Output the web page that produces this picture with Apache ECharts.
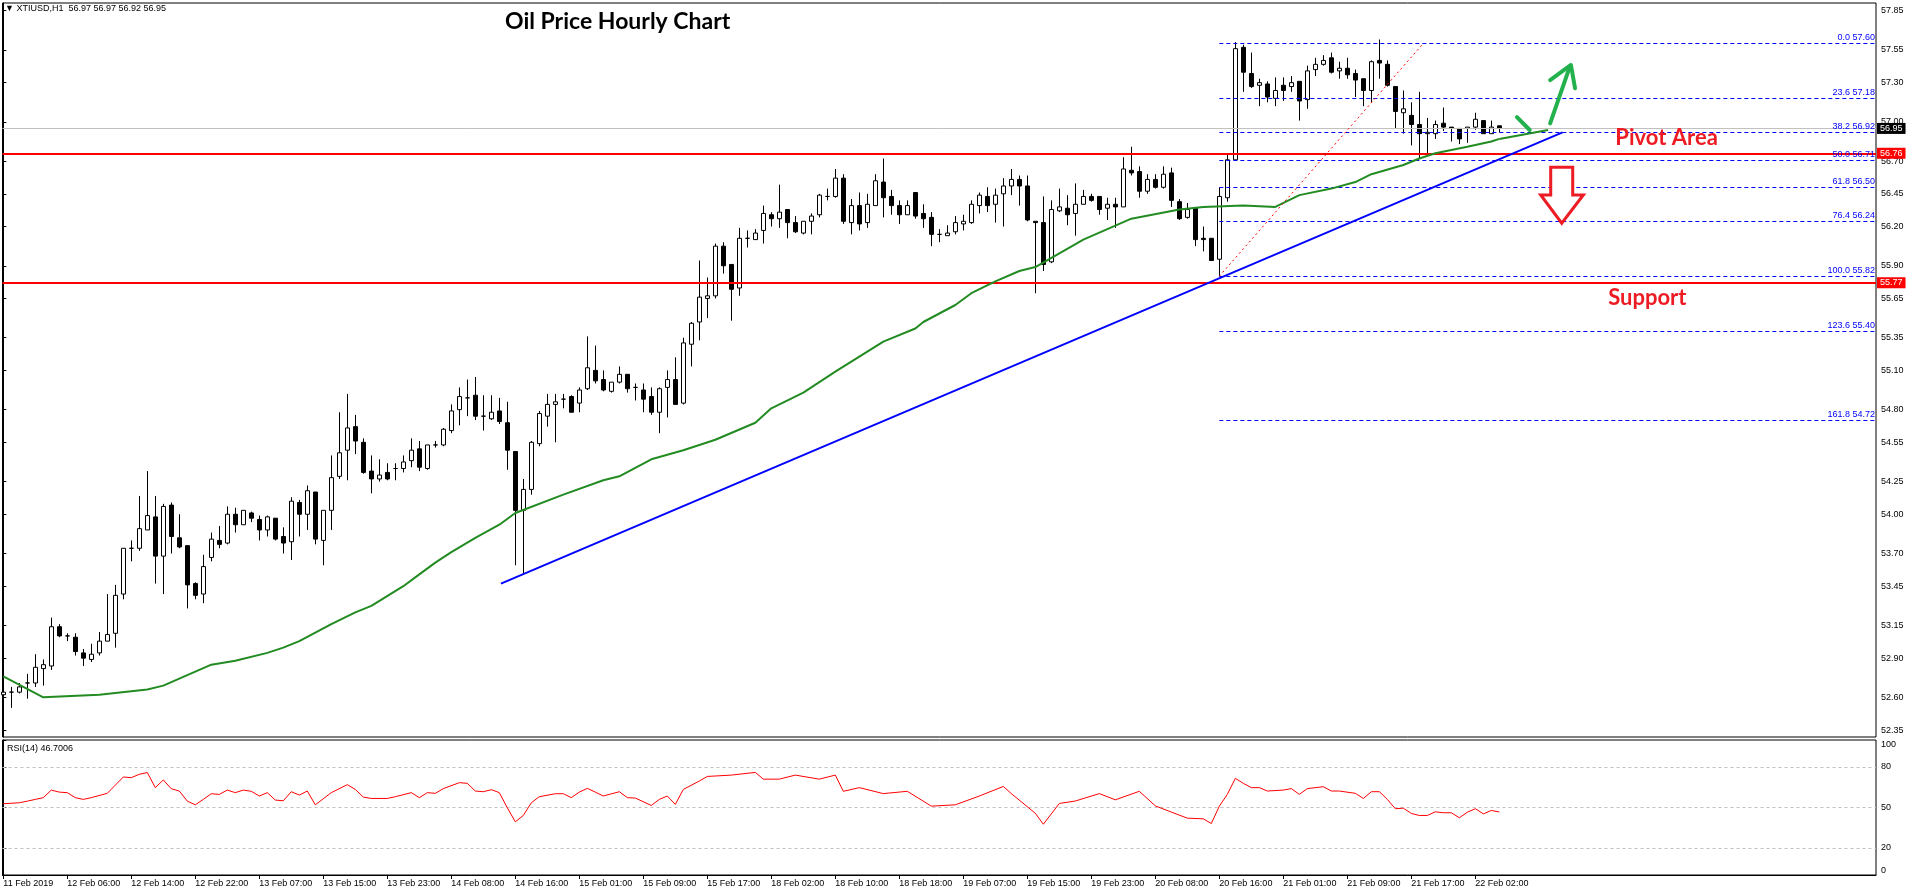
<!DOCTYPE html>
<html><head><meta charset="utf-8">
<script src="https://cdn.jsdelivr.net/npm/echarts@6/dist/echarts.min.js"></script>
<style>html,body{margin:0;padding:0;background:#fff;}#c{width:1916px;height:896px;}</style>
</head><body><div id="c"></div>
<script>
// ---- DATA ----
// hourly candles: [open, close, low, high]
const candles = [
[52.62,52.64,52.61,52.90],[52.64,52.64,52.52,52.68],[52.64,52.68,52.63,52.71],[52.71,52.71,52.59,52.78],
[52.71,52.83,52.68,52.93],[52.82,52.85,52.69,52.89],[52.84,53.14,52.81,53.21],[53.14,53.07,53.06,53.16],
[53.07,53.07,53.03,53.09],[53.06,52.95,52.92,53.09],[52.94,52.90,52.84,52.97],[52.89,52.93,52.87,53.01],
[52.94,53.03,52.92,53.10],[53.03,53.08,53.03,53.39],[53.09,53.38,52.98,53.46],[53.39,53.74,53.35,53.74],
[53.74,53.74,53.64,53.80],[53.74,53.89,53.72,54.14],[53.88,53.99,53.88,54.33],[53.98,53.68,53.47,54.14],
[53.68,54.06,53.39,54.08],[54.07,53.83,53.70,54.09],[53.82,53.75,53.74,54.00],[53.76,53.46,53.28,53.76],
[53.47,53.38,53.35,53.48],[53.39,53.60,53.32,53.69],[53.67,53.81,53.64,53.86],[53.80,53.77,53.74,53.91],
[53.78,54.00,53.77,54.06],[54.00,53.92,53.86,54.05],[53.92,54.03,53.92,54.03],[54.01,53.97,53.94,54.02],
[53.96,53.88,53.80,53.99],[53.88,53.98,53.83,53.99],[53.97,53.81,53.80,53.97],[53.83,53.78,53.70,53.90],
[53.79,54.10,53.65,54.13],[54.09,54.00,53.83,54.11],[54.00,54.18,53.88,54.22],[54.17,53.81,53.77,54.17],
[53.80,54.03,53.61,54.03],[54.03,54.28,53.88,54.45],[54.29,54.47,54.27,54.78],[54.49,54.66,54.26,54.92],
[54.67,54.56,54.46,54.76],[54.55,54.32,54.31,54.58],[54.33,54.27,54.16,54.45],[54.27,54.30,54.25,54.42],
[54.32,54.27,54.26,54.39],[54.35,54.35,54.26,54.39],[54.35,54.40,54.32,54.45],[54.41,54.49,54.36,54.58],
[54.50,54.36,54.33,54.56],[54.35,54.53,54.34,54.53],[54.53,54.53,54.51,54.56],[54.53,54.65,54.52,54.66],
[54.64,54.79,54.62,54.84],[54.80,54.90,54.68,54.97],[54.89,54.89,54.75,55.03],[54.91,54.75,54.72,55.05],
[54.75,54.75,54.64,54.91],[54.73,54.78,54.72,54.91],[54.79,54.71,54.69,54.89],[54.70,54.49,54.34,54.86],
[54.48,54.03,53.61,54.48],[54.03,54.19,53.54,54.27],[54.19,54.55,54.15,54.56],[54.54,54.77,54.52,54.79],
[54.75,54.84,54.67,54.92],[54.84,54.86,54.55,54.92],[54.88,54.88,54.81,54.92],[54.90,54.78,54.78,54.91],
[54.85,54.95,54.78,54.97],[54.96,55.12,54.95,55.36],[55.10,55.02,55.00,55.29],[55.03,54.95,54.94,55.10],
[54.94,55.01,54.93,55.01],[55.01,55.07,55.00,55.13],[55.07,54.96,54.93,55.07],[54.97,54.97,54.87,55.00],
[54.95,54.88,54.78,55.00],[54.90,54.78,54.76,54.97],[54.78,54.96,54.62,54.97],[54.97,55.03,54.74,55.10],
[55.03,54.84,54.84,55.20],[54.85,55.31,54.84,55.35],[55.30,55.46,55.13,55.47],[55.47,55.66,55.33,55.94],
[55.65,55.67,55.50,55.81],[55.67,56.05,55.65,56.07],[56.05,55.90,55.84,56.08],[55.91,55.72,55.48,55.91],
[55.73,56.11,55.67,56.19],[56.11,56.11,56.04,56.17],[56.10,56.15,56.10,56.18],[56.17,56.30,56.07,56.36],
[56.29,56.26,56.20,56.31],[56.26,56.31,56.19,56.52],[56.33,56.23,56.11,56.33],[56.23,56.16,56.15,56.28],
[56.15,56.24,56.14,56.24],[56.24,56.28,56.14,56.30],[56.29,56.44,56.27,56.45],[56.43,56.43,56.40,56.49],
[56.43,56.57,56.42,56.64],[56.57,56.24,56.22,56.60],[56.23,56.36,56.14,56.41],[56.36,56.22,56.17,56.46],
[56.23,56.37,56.19,56.45],[56.36,56.55,56.36,56.60],[56.54,56.42,56.27,56.72],[56.43,56.36,56.29,56.48],
[56.36,56.29,56.22,56.40],[56.29,56.36,56.29,56.40],[56.46,56.28,56.26,56.46],[56.30,56.26,56.19,56.37],
[56.27,56.14,56.05,56.31],[56.14,56.14,56.08,56.18],[56.13,56.15,56.13,56.21],[56.16,56.23,56.14,56.28],
[56.22,56.24,56.17,56.29],[56.23,56.37,56.22,56.40],[56.36,56.44,56.30,56.46],[56.43,56.36,56.31,56.50],
[56.37,56.44,56.23,56.49],[56.45,56.51,56.20,56.57],[56.51,56.56,56.44,56.64],[56.56,56.51,56.36,56.59],
[56.51,56.25,56.24,56.59],[56.24,56.23,55.69,56.24],[56.23,55.91,55.86,56.43],[55.93,56.33,55.92,56.40],
[56.32,56.35,56.31,56.49],[56.34,56.29,56.21,56.44],[56.30,56.37,56.13,56.53],[56.37,56.43,56.37,56.48],
[56.43,56.40,56.39,56.45],[56.43,56.33,56.29,56.43],[56.34,56.37,56.25,56.42],[56.37,56.35,56.19,56.42],
[56.35,56.64,56.35,56.73],[56.63,56.61,56.59,56.81],[56.62,56.47,56.42,56.66],[56.47,56.56,56.45,56.60],
[56.56,56.50,56.49,56.60],[56.50,56.60,56.49,56.66],[56.61,56.40,56.35,56.65],[56.39,56.26,56.25,56.41],
[56.27,56.33,56.26,56.38],[56.34,56.10,56.05,56.34],[56.11,56.10,56.01,56.20],[56.11,55.94,55.94,56.11],
[55.95,56.43,55.82,56.50],[56.42,56.71,56.39,56.76],[56.71,57.56,56.71,57.61],[57.57,57.38,57.23,57.59],
[57.37,57.27,57.26,57.53],[57.28,57.30,57.12,57.33],[57.29,57.19,57.15,57.31],[57.18,57.24,57.12,57.34],
[57.28,57.24,57.16,57.34],[57.27,57.30,57.23,57.35],[57.31,57.16,57.01,57.31],[57.17,57.39,57.10,57.43],
[57.40,57.44,57.35,57.49],[57.44,57.47,57.43,57.51],[57.49,57.38,57.37,57.53],[57.39,57.41,57.33,57.46],
[57.41,57.36,57.33,57.49],[57.37,57.32,57.19,57.40],[57.33,57.24,57.12,57.33],[57.24,57.46,57.15,57.47],
[57.47,57.45,57.33,57.63],[57.44,57.28,57.27,57.47],[57.27,57.08,56.95,57.27],[57.07,57.10,56.91,57.24],
[57.05,56.98,56.82,57.15],[56.98,56.91,56.72,57.23],[56.91,56.92,56.75,57.03],[56.91,56.98,56.87,57.01],
[56.99,56.96,56.93,57.11],[56.96,56.95,56.85,56.96],[56.95,56.87,56.83,56.95],[56.95,56.96,56.84,56.96],
[56.96,57.02,56.94,57.07],[57.01,56.91,56.91,57.01],[56.91,56.96,56.91,57.01],[56.97,56.95,56.92,56.97]
];
// moving average read at bar index: [bar, value]
const maPoints = [
[0,52.76],[5,52.60],[12,52.62],[18,52.66],[20,52.69],[26,52.85],[29,52.88],[33,52.94],[35,52.98],[37,53.03],
[41,53.16],[44,53.25],[46,53.30],[50,53.45],[52,53.54],[54,53.63],[56,53.71],[59,53.82],[62,53.92],[64,54.01],
[70,54.15],[75,54.26],[77,54.29],[81,54.42],[85,54.49],[89,54.57],[94,54.70],[96,54.81],[100,54.93],[104,55.09],
[110,55.32],[114,55.42],[115,55.47],[119,55.60],[121,55.69],[124,55.78],[127,55.86],[129,55.89],[135,56.10],
[141,56.26],[147,56.33],[150,56.35],[155,56.36],[159,56.35],[162,56.44],[166,56.49],[169,56.54],[171,56.60],
[175,56.67],[177,56.72],[179,56.76],[183,56.81],[186,56.85],[187,56.87]
];
// RSI(14) read at bar index: [bar, value]
const rsiPoints = [
[0,52.8],[2,53.5],[3,54.7],[4,56],[5,57.3],[6,62.9],[7,61.4],[8,61],[9,57.3],[10,56],[11,57.3],[13,60.5],
[15,72.6],[16,72.1],[17,74.6],[18,75.9],[19,64.7],[20,70.4],[21,63.9],[22,62.2],[23,54.7],[24,52],[25,56],
[26,60.2],[27,59.7],[28,62.9],[29,61],[30,62.9],[31,62],[32,58.5],[33,61],[34,55.5],[35,55],[36,61.7],
[37,59.2],[38,62.2],[39,52],[40,56.5],[41,61],[43,66.9],[44,63.4],[45,57.7],[46,56.7],[48,56.7],[49,58],
[51,61],[52,57.3],[53,61],[54,60.5],[55,64],[57,68.4],[58,67.9],[59,62.2],[60,61.7],[61,63.2],[62,61],
[63,49.8],[64,39.4],[65,44.1],[66,53.5],[67,58],[69,60.2],[70,60.2],[71,57.3],[72,61.4],[73,64.2],[74,61.4],
[75,58.5],[77,61.7],[78,57.3],[79,57],[81,51.5],[82,56],[83,58.5],[84,52.3],[85,63.4],[87,69.6],
[88,73],[91,74],[94,76],[95,71],[97,71],[99,74],[102,71],[104,74],[105,62],[107,64.7],[110,60.3],[113,62],
[116,51],[119,52],[122,58.5],[125,65.6],[126,60.3],[129,45.7],[130,37.6],[132,53],[134,54.8],[137,60.3],
[139,55.7],[142,62],[144,51.2],[146,46.6],[148,42.1],[150,41.6],[151,38.1],[152,51],[153,59.7],[154,71.6],
[155,67.9],[156,64.7],[157,64.7],[158,62.2],[160,62.9],[161,64],[162,59.7],[163,64],[165,65.4],[166,62.2],
[167,62.2],[169,60.5],[170,56.7],[171,61.7],[172,61.7],[173,56],[174,49.1],[175,49.5],[176,45.6],[177,44.1],
[178,44.1],[179,46.8],[180,46.1],[181,46.1],[182,42.4],[183,46.5],[184,49.1],[185,45.3],[186,47.8],[187,46.7]
];
const tickIdx = [0,8,16,24,32,40,48,56,64,72,80,88,96,104,112,120,128,136,144,152,160,168,176,184];
const tickLabels = ['11 Feb 2019','12 Feb 06:00','12 Feb 14:00','12 Feb 22:00','13 Feb 07:00','13 Feb 15:00',
 '13 Feb 23:00','14 Feb 08:00','14 Feb 16:00','15 Feb 01:00','15 Feb 09:00','15 Feb 17:00','18 Feb 02:00',
 '18 Feb 10:00','18 Feb 18:00','19 Feb 07:00','19 Feb 15:00','19 Feb 23:00','20 Feb 08:00','20 Feb 16:00',
 '21 Feb 01:00','21 Feb 09:00','21 Feb 17:00','22 Feb 02:00'];
const priceTicks = [57.85,57.55,57.30,57.00,56.70,56.45,56.20,55.90,55.65,55.35,55.10,54.80,54.55,54.25,54.00,
 53.70,53.45,53.15,52.90,52.60,52.35];
const rsiTicks = [0,20,50,80,100];
const rsiLevels = [20,50,80];
const fibPercents = [0.0,23.6,38.2,50.0,61.8,76.4,100.0,123.6,161.8];
const fibPrices = [57.60,57.18,56.92,56.71,56.50,56.24,55.82,55.40,54.72];
const fibStartBar = 152;
const trendLine = [[62.2,53.47],[194.9,56.92]];
const fibAnchor = [[152,55.82],[177.5,57.60]];
const pivotLevel = 56.76, supportLevel = 55.77, lastPrice = 56.95;
const headerText = '\u25BC XTIUSD,H1  56.97 56.97 56.92 56.95';
const rsiText = 'RSI(14) 46.7006';

// ---- CHART ----
const XMIN = -0.1, XMAX = 234.08;
const FONT = '"Liberation Sans", Arial, sans-serif';
const chart = echarts.init(document.getElementById('c'));

function priceLabel(v, bg) {
  return {show:true, position:'end', distance:1, formatter:v.toFixed(2), backgroundColor:bg, color:'#fff',
          fontSize:9, fontFamily:FONT, padding:[1,3,0,3], lineHeight:10};
}
const markData = [
  {yAxis:lastPrice, lineStyle:{color:'#c0c0c0', width:1, type:'solid'}, label:priceLabel(lastPrice,'#000')},
  {yAxis:pivotLevel, lineStyle:{color:'#ff0000', width:2, type:'solid'}, label:priceLabel(pivotLevel,'#ff0000')},
  {yAxis:supportLevel, lineStyle:{color:'#ff0000', width:2, type:'solid'}, label:priceLabel(supportLevel,'#ff0000')}
];
fibPrices.forEach((p,i)=>{
  markData.push([
    {coord:[fibStartBar,p], lineStyle:{color:'#0000ff', width:1, type:[4,3]},
     label:{show:true, position:'insideEndTop', distance:1, formatter:fibPercents[i].toFixed(1)+' '+p.toFixed(2),
            color:'#0000ff', fontSize:9, fontFamily:FONT}},
    {coord:[XMAX,p]}
  ]);
});

const option = {
  animation:false,
  backgroundColor:'#fff',
  grid:[
    {left:2.5, right:40, top:3, bottom:159, show:true, borderColor:'#000', borderWidth:1, outerBoundsMode:'none'},
    {left:2.5, right:40, top:740, bottom:21, show:true, borderColor:'#000', borderWidth:1, outerBoundsMode:'none'}
  ],
  xAxis:[
    {type:'value', gridIndex:0, min:XMIN, max:XMAX, show:false},
    {type:'value', gridIndex:1, min:XMIN, max:XMAX,
     axisLine:{show:true, lineStyle:{color:'#000', width:1}},
     axisTick:{show:true, customValues:tickIdx, length:4, lineStyle:{color:'#000'}},
     axisLabel:{show:true, customValues:tickIdx, formatter:v=>tickLabels[tickIdx.indexOf(Math.round(v))]||'',
                align:'left', margin:4, color:'#000', fontSize:9, fontFamily:FONT},
     splitLine:{show:false}}
  ],
  yAxis:[
    {type:'value', gridIndex:0, position:'right', min:52.297, max:57.909,
     axisLine:{show:true, lineStyle:{color:'#000', width:1}},
     axisTick:{show:true, customValues:priceTicks, length:3, lineStyle:{color:'#000'}},
     axisLabel:{show:true, customValues:priceTicks, formatter:v=>v.toFixed(2), margin:5, color:'#000', fontSize:9, fontFamily:FONT},
     splitLine:{show:false}},
    {type:'value', gridIndex:1, position:'right', min:0, max:100,
     axisLine:{show:true, lineStyle:{color:'#000', width:1}},
     axisTick:{show:true, customValues:rsiTicks, length:3, lineStyle:{color:'#000'}},
     axisLabel:{show:true, customValues:rsiTicks, margin:5, color:'#000', fontSize:9, fontFamily:FONT,
                verticalAlignMinLabel:'bottom', verticalAlignMaxLabel:'top'},
     splitLine:{show:false}}
  ],
  series:[
    {type:'candlestick', xAxisIndex:0, yAxisIndex:0, z:3,
     data:candles.map((c,i)=>[i,c[0],c[1],c[2],c[3]]), encode:{x:0, y:[1,2,3,4]}, barWidth:5,
     itemStyle:{color:'#fff', color0:'#000', borderColor:'#000', borderColor0:'#000', borderColorDoji:'#000', borderWidth:1},
     markLine:{silent:true, symbol:['none','none'], animation:false, z:4, data:markData}},
    {type:'line', xAxisIndex:0, yAxisIndex:0, z:5, data:maPoints, symbol:'none', silent:true,
     lineStyle:{color:'#228b22', width:2}},
    {type:'line', xAxisIndex:0, yAxisIndex:0, z:5, data:trendLine, symbol:'none', silent:true,
     lineStyle:{color:'#0000ff', width:2}},
    {type:'line', xAxisIndex:0, yAxisIndex:0, z:5, data:fibAnchor, symbol:'none', silent:true,
     lineStyle:{color:'#ff0000', width:1, type:[2,3]}},
    {type:'line', xAxisIndex:1, yAxisIndex:1, z:5, data:rsiPoints, symbol:'none', silent:true,
     lineStyle:{color:'#ff0000', width:1},
     markLine:{silent:true, symbol:['none','none'], animation:false, label:{show:false},
               lineStyle:{color:'#c0c0c0', width:1, type:[3,3]},
               data:rsiLevels.map(v=>({yAxis:v}))}}
  ]
};
chart.setOption(option);

// ---- annotations, placed in data coordinates ----
const P = (x,y)=>chart.convertToPixel({gridIndex:0},[x,y]);
const green = '#22b14c', red = '#ed1c24';
const redArrow = [[193.42,56.653],[196.17,56.653],[196.17,56.441],[197.5,56.441],[194.8,56.225],[192.17,56.441],[193.42,56.441]];
const pv = P(201.5,56.877), sp = P(200.6,55.654);
chart.setOption({graphic:[
  {type:'text', x:505, y:22, style:{text:'Oil Price Hourly Chart', font:'bold 23px Lato, "Liberation Sans", sans-serif', fill:'#000', align:'left', verticalAlign:'middle'}},
  {type:'text', x:5, y:9, style:{text:headerText, font:'9px "Liberation Sans", Arial, sans-serif', fill:'#000', align:'left', verticalAlign:'middle'}},
  {type:'text', x:7, y:749, style:{text:rsiText, font:'9px "Liberation Sans", Arial, sans-serif', fill:'#000', align:'left', verticalAlign:'middle'}},
  {type:'text', x:pv[0], y:pv[1], z:20, style:{text:'Pivot Area', font:'bold 22px Lato, "Liberation Sans", sans-serif', fill:red, align:'left', verticalAlign:'middle'}},
  {type:'text', x:sp[0], y:sp[1], z:20, style:{text:'Support', font:'bold 22px Lato, "Liberation Sans", sans-serif', fill:red, align:'left', verticalAlign:'middle'}},
  {type:'polyline', z:20, shape:{points:[P(187,56.87),P(193.1,56.938)]}, style:{stroke:'#228b22', lineWidth:2, fill:null}},
  {type:'polyline', z:20, shape:{points:[P(189.2,57.037),P(190.8,56.938)]}, style:{stroke:green, lineWidth:4, lineCap:'round', fill:null}},
  {type:'polyline', z:20, shape:{points:[P(193.35,56.989),P(195.8,57.42)]}, style:{stroke:green, lineWidth:4, lineCap:'round', fill:null}},
  {type:'polyline', z:20, shape:{points:[P(193.35,57.32),P(195.95,57.435),P(196.46,57.257)]}, style:{stroke:green, lineWidth:4, lineCap:'round', lineJoin:'round', fill:null}},
  {type:'polygon', z:20, shape:{points:redArrow.map(p=>P(p[0],p[1]))}, style:{stroke:red, lineWidth:3, fill:'#fff', lineJoin:'miter'}}
]});
</script>
</body></html>
